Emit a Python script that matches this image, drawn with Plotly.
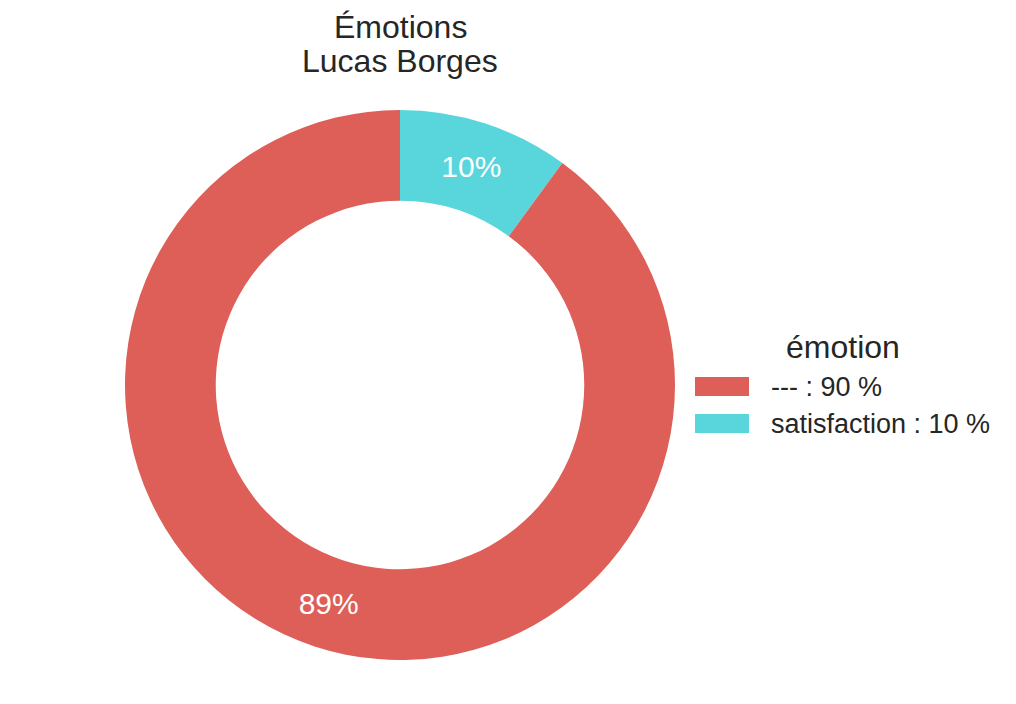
import plotly.graph_objects as go

labels = ["satisfaction", "---"]
values = [10.05, 89.95]
slice_text = ["10%", "89%"]
colors = ["#59D5DC", "#DD5F57"]
legend_text = ["--- : 90 %", "satisfaction : 10 %"]
legend_colors = ["#DD5F57", "#59D5DC"]
title_lines = ["Émotions", "Lucas Borges"]

W, H = 1016, 704
OFF = 8  # page body offset
cx, cy, R = 400 - OFF, 385 - OFF, 275
FONT = "Liberation Sans, Arial"
TXT = "#262626"


def px(x):
    return (x - OFF) / W


def py(y):
    return 1 - (y - OFF) / H


fig = go.Figure(go.Pie(
    labels=labels, values=values, text=slice_text,
    textinfo="text", textposition="inside", insidetextorientation="horizontal",
    textfont=dict(color="white", size=30, family=FONT),
    marker=dict(colors=colors, line=dict(width=0)),
    hole=0.67, sort=False, direction="clockwise", rotation=0,
    showlegend=False,
    domain=dict(x=[(cx - R) / W, (cx + R) / W], y=[1 - (cy + R) / H, 1 - (cy - R) / H]),
))

# title (two lines)
for i, t in enumerate(title_lines):
    fig.add_annotation(x=px(400), y=py(27 + 34 * i), xref="paper", yref="paper", text=t,
                       showarrow=False, font=dict(size=32, color=TXT, family=FONT),
                       xanchor="center", yanchor="middle")

# manual legend
fig.add_annotation(x=px(842.5), y=py(347), xref="paper", yref="paper", text="émotion",
                   showarrow=False, font=dict(size=32, color=TXT, family=FONT),
                   xanchor="center", yanchor="middle")
for i, (t, c) in enumerate(zip(legend_text, legend_colors)):
    yc = 386.5 + i * 37
    fig.add_shape(type="rect", xref="paper", yref="paper",
                  x0=px(695), x1=px(749), y0=py(yc - 9.5), y1=py(yc + 9.5),
                  fillcolor=c, line=dict(width=0))
    fig.add_annotation(x=px(769), y=py(yc), xref="paper", yref="paper", text=t,
                       showarrow=False, font=dict(size=27, color=TXT, family=FONT),
                       xanchor="left", yanchor="middle")

fig.update_layout(
    width=W, height=H,
    margin=dict(l=0, r=0, t=0, b=0),
    paper_bgcolor="white", plot_bgcolor="white",
    font=dict(family=FONT, color=TXT),
)
fig.write_html("out.html")
